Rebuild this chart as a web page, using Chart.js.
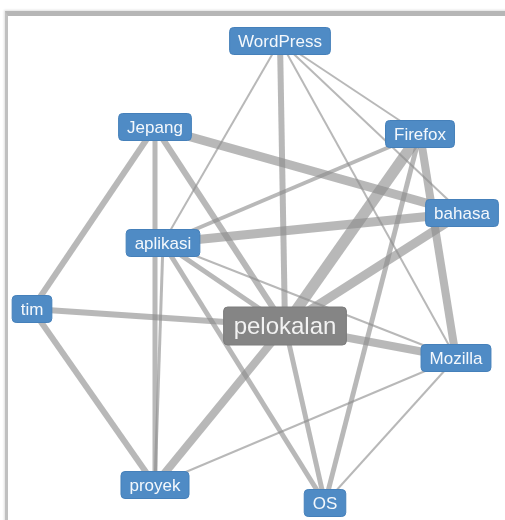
<!DOCTYPE html>
<html>
<head>
<meta charset="utf-8">
<script src="https://cdn.jsdelivr.net/npm/chart.js@4/dist/chart.umd.min.js"></script>
<style>
  body { margin: 0; background: #fff; }
  #wrap { position: relative; width: 505px; height: 520px; overflow: hidden; }
  #frame { position: absolute; left: 5px; top: 11px; width: 520px; height: 540px;
           border-top: 5px solid #b6b6b6; border-left: 3px solid #c0c0c0;
           box-shadow: -1px -1px 2px rgba(0,0,0,0.12); }
  canvas { position: absolute; left: 0; top: 0; }
</style>
</head>
<body>
<div id="wrap">
  <div id="frame"></div>
  <canvas id="netChart" width="505" height="520"></canvas>
</div>
<script>
'use strict';

// nodes (positions in chart units)
var nodeNames = ['WordPress', 'Jepang', 'Firefox', 'bahasa', 'aplikasi', 'tim', 'pelokalan', 'Mozilla', 'proyek', 'OS'];
var nodeX = [280, 155, 420, 462, 163, 32, 285, 456, 155, 325];
var nodeY = [41, 127, 134, 213, 243, 309, 326, 358, 485, 503];

// links between nodes and their weights
var edgeFrom = ['WordPress', 'WordPress', 'WordPress', 'WordPress', 'WordPress',
  'Jepang', 'Jepang', 'Jepang', 'Jepang',
  'Firefox', 'Firefox', 'Firefox', 'Firefox',
  'bahasa', 'bahasa',
  'aplikasi', 'aplikasi', 'aplikasi', 'aplikasi',
  'tim', 'tim',
  'pelokalan', 'pelokalan', 'pelokalan',
  'proyek', 'OS'];
var edgeTo = ['aplikasi', 'pelokalan', 'Firefox', 'bahasa', 'Mozilla',
  'bahasa', 'tim', 'proyek', 'pelokalan',
  'aplikasi', 'pelokalan', 'Mozilla', 'OS',
  'aplikasi', 'pelokalan',
  'pelokalan', 'Mozilla', 'OS', 'proyek',
  'pelokalan', 'proyek',
  'Mozilla', 'proyek', 'OS',
  'Mozilla', 'Mozilla'];
var edgeWeight = [2, 6, 2, 2, 2,
  9, 6, 5, 6,
  4, 11, 8, 5,
  9, 9,
  5, 2, 5, 3,
  6, 6,
  8, 8, 5,
  2, 2];

var colors = {
  link : 'rgba(140, 140, 140, 0.62)',
  node : '#4f8bc5',
  nodeBorder : '#4580ba',
  center : '#858585',
  text : '#f4f8fc',
  centerText : '#f2f2f2'
};
var fontFamily = "'Liberation Sans', Arial, sans-serif";

function nodePoint(name) {
  var i = nodeNames.indexOf(name);
  return { x : nodeX[i], y : nodeY[i] };
}

var datasets = edgeFrom.map(function(from, i) {
  return {
    type : 'line',
    data : [ nodePoint(from), nodePoint(edgeTo[i]) ],
    borderColor : colors.link,
    borderWidth : edgeWeight[i],
    pointRadius : 0,
    fill : false
  };
});

datasets.push({
  type : 'scatter',
  label : 'nodes',
  data : nodeNames.map(function(n, i) { return { x : nodeX[i], y : nodeY[i] }; }),
  pointRadius : 0
});

function roundRect(ctx, x, y, w, h, r) {
  ctx.beginPath();
  ctx.moveTo(x + r, y);
  ctx.lineTo(x + w - r, y);
  ctx.quadraticCurveTo(x + w, y, x + w, y + r);
  ctx.lineTo(x + w, y + h - r);
  ctx.quadraticCurveTo(x + w, y + h, x + w - r, y + h);
  ctx.lineTo(x + r, y + h);
  ctx.quadraticCurveTo(x, y + h, x, y + h - r);
  ctx.lineTo(x, y + r);
  ctx.quadraticCurveTo(x, y, x + r, y);
  ctx.closePath();
}

// draws the labelled boxes on top of the links
var nodeLabels = {
  id : 'nodeLabels',
  afterDatasetsDraw : function(chart) {
    var ctx = chart.ctx;
    var xs = chart.scales.x, ys = chart.scales.y;
    ctx.save();
    ctx.textAlign = 'center';
    ctx.textBaseline = 'middle';
    nodeNames.forEach(function(name, i) {
      var cx = xs.getPixelForValue(nodeX[i]);
      var cy = ys.getPixelForValue(nodeY[i]);
      var big = name === 'pelokalan';
      ctx.font = (big ? '24px ' : '17px ') + fontFamily;
      var tw = ctx.measureText(name).width;
      var w = tw + (big ? 20 : 17);
      var h = big ? 38 : 27;
      roundRect(ctx, cx - w / 2, cy - h / 2, w, h, 4);
      ctx.fillStyle = big ? colors.center : colors.node;
      ctx.fill();
      ctx.lineWidth = 1;
      ctx.strokeStyle = big ? '#7c7c7c' : colors.nodeBorder;
      ctx.stroke();
      ctx.fillStyle = big ? colors.centerText : colors.text;
      ctx.fillText(name, cx, cy + 1);
    });
    ctx.restore();
  }
};

new Chart(document.getElementById('netChart'), {
  type : 'scatter',
  data : { datasets : datasets },
  options : {
    responsive : false,
    animation : false,
    devicePixelRatio : 1,
    layout : { padding : 0 },
    plugins : {
      legend : { display : false },
      tooltip : { enabled : false }
    },
    scales : {
      x : { type : 'linear', min : 0, max : 505, display : false },
      y : { type : 'linear', min : 0, max : 520, reverse : true, display : false }
    }
  },
  plugins : [ nodeLabels ]
});
</script>
</body>
</html>
